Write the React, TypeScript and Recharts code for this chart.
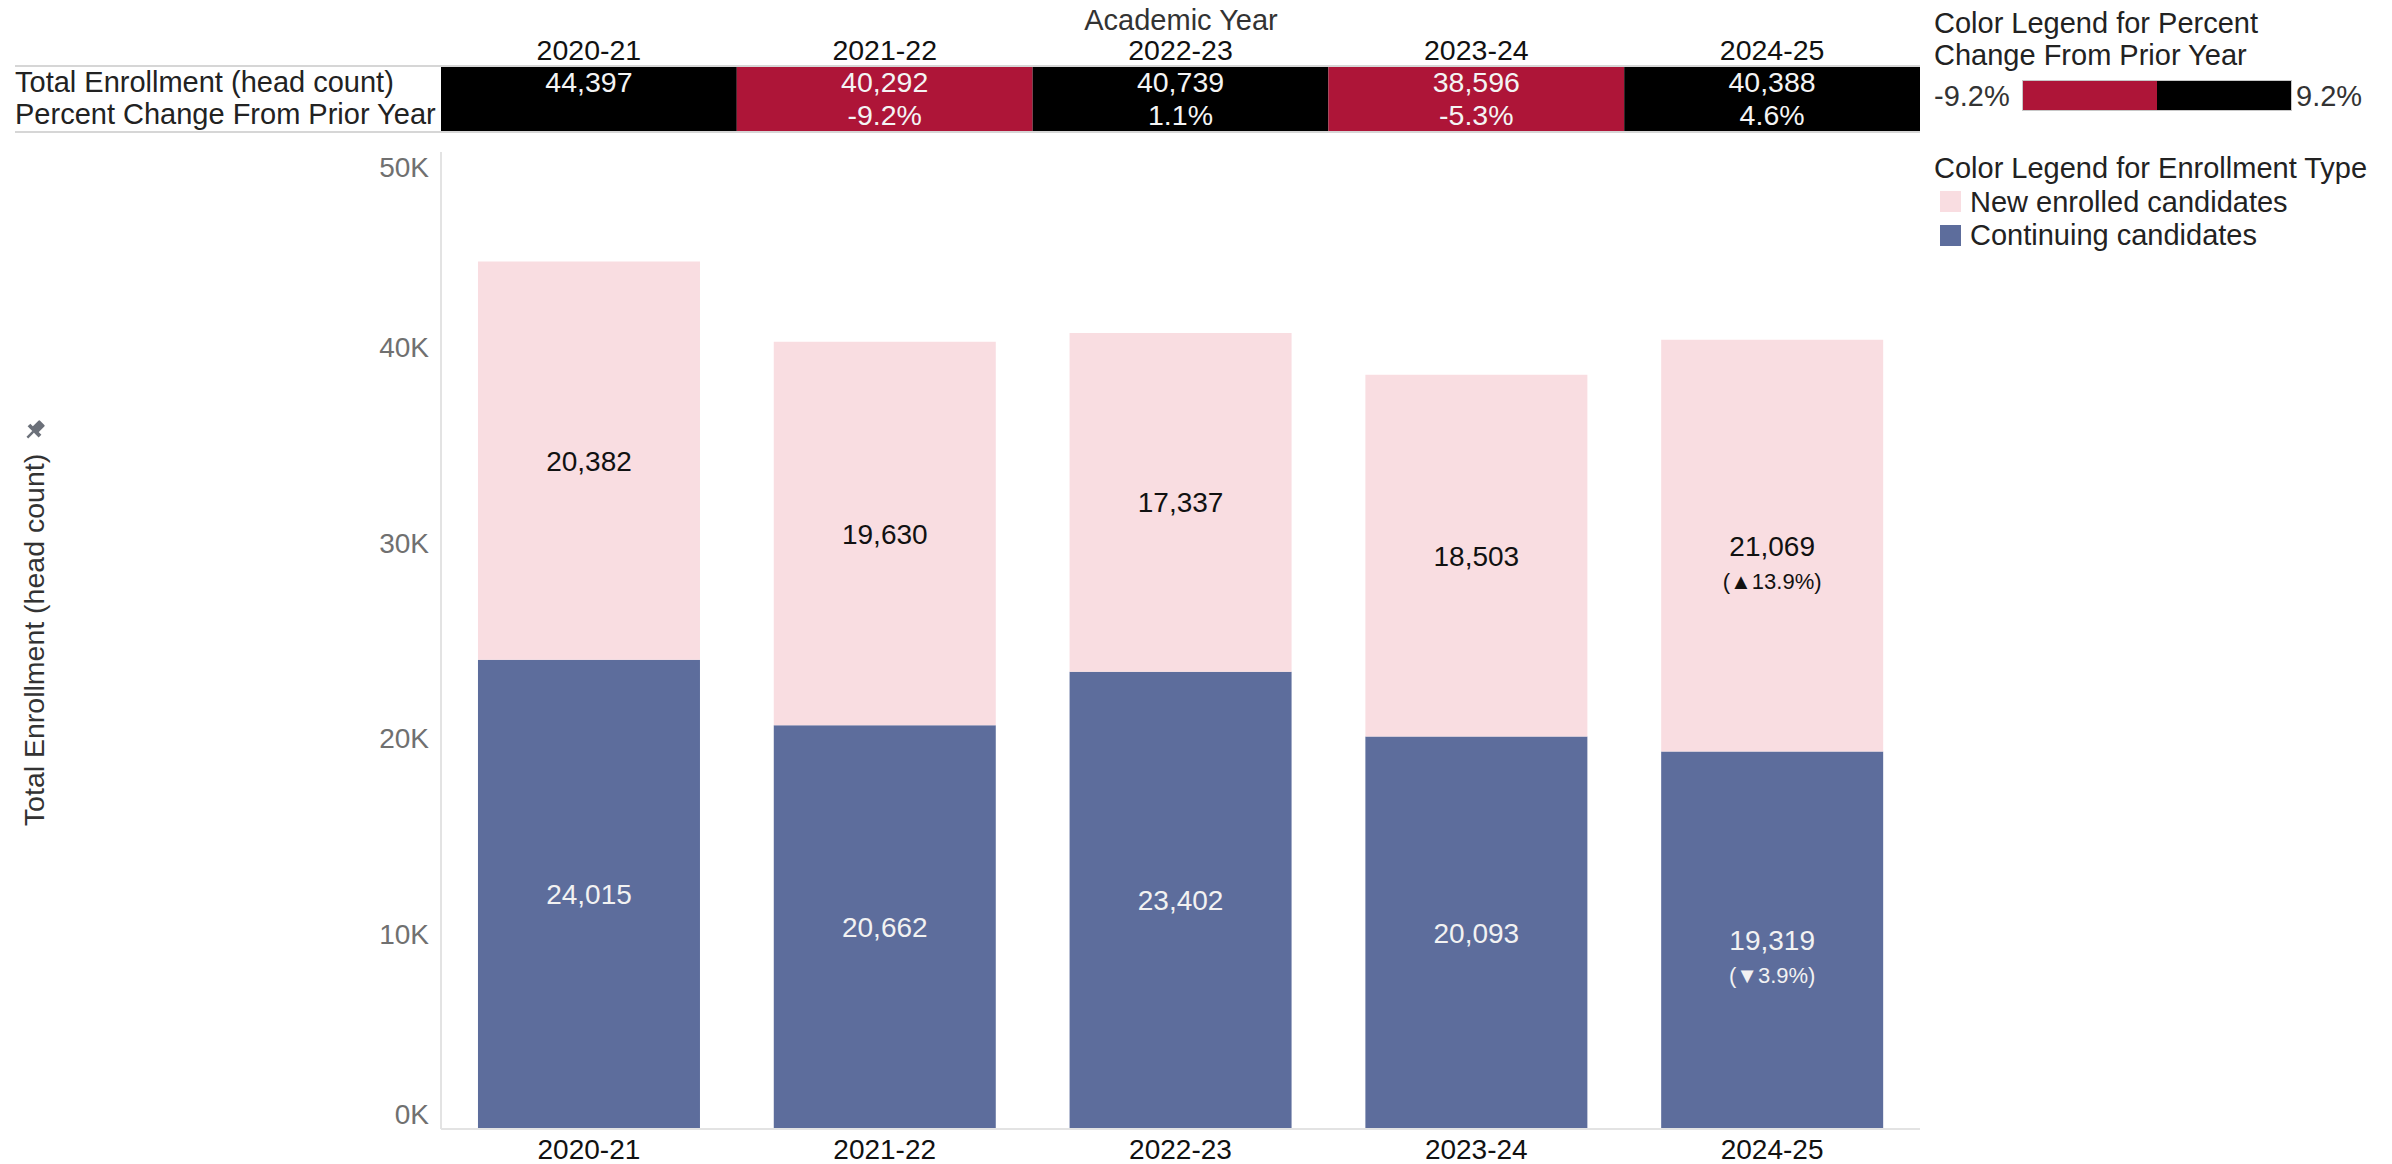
import React from "react";
import { BarChart, Bar, XAxis, YAxis, LabelList } from "recharts";

const years = ["2020-21", "2021-22", "2022-23", "2023-24", "2024-25"];
const continuing = [24015, 20662, 23402, 20093, 19319];
const newEnrolled = [20382, 19630, 17337, 18503, 21069];
const totals = [44397, 40292, 40739, 38596, 40388];
const pctChange: (number | null)[] = [null, -9.2, 1.1, -5.3, 4.6];
const newNotes = ["", "", "", "", "(▲13.9%)"];
const contNotes = ["", "", "", "", "(▼3.9%)"];
const yTicks = [0, 10000, 20000, 30000, 40000, 50000];

const data = years.map((y, i) => ({
  year: y,
  continuing: continuing[i],
  newEnrolled: newEnrolled[i],
  total: totals[i],
  pct: pctChange[i],
}));

const FONT = "'Liberation Sans', Arial, Helvetica, sans-serif";
const PINK = "#F9DDE1";
const BLUE = "#5D6D9C";
const RED = "#AE1538";
const BLACK = "#000000";

const fmt = (v: number) => v.toLocaleString("en-US");

const HeaderTick = (props: any) => {
  const { x, index, width, visibleTicksCount } = props;
  const band = (width || 1479) / (visibleTicksCount || 5);
  const p = pctChange[index];
  const fill = p !== null && p < 0 ? RED : BLACK;
  return (
    <g>
      <text x={x} y={50} dy="0.36em" textAnchor="middle" fontFamily={FONT} fontSize={28.5} fill="#111">
        {years[index]}
      </text>
      <rect x={x - band / 2} y={66} width={band} height={65.5} fill={fill} />
      <text x={x} y={82} dy="0.36em" textAnchor="middle" fontFamily={FONT} fontSize={28.5} fill="#f4f4f4">
        {fmt(totals[index])}
      </text>
      {p !== null && (
        <text x={x} y={115} dy="0.36em" textAnchor="middle" fontFamily={FONT} fontSize={28.5} fill="#f4f4f4">
          {p.toFixed(1) + "%"}
        </text>
      )}
    </g>
  );
};

const YTick = (props: any) => {
  const { x, y, payload } = props;
  const shift = payload.value === 0 ? -15 : payload.value === 50000 ? 15 : 0;
  return (
    <text x={x} y={y + shift} dy="0.36em" textAnchor="end" fontFamily={FONT} fontSize={28} fill="#707070">
      {payload.value / 1000 + "K"}
    </text>
  );
};

const XTick = (props: any) => {
  const { x, y, payload } = props;
  return (
    <text x={x} y={y} dy="0.36em" textAnchor="middle" fontFamily={FONT} fontSize={28} fill="#111">
      {payload.value}
    </text>
  );
};

const makeSegLabel = (notes: string[], color: string) => (props: any) => {
  const { x, y, width, height, value, index } = props;
  const cx = x + width / 2;
  const cy = y + height / 2;
  const note = notes[index];
  return (
    <g>
      <text x={cx} y={cy} dy="0.36em" textAnchor="middle" fontFamily={FONT} fontSize={28} fill={color}>
        {fmt(value)}
      </text>
      {note && (
        <text x={cx} y={cy + 35} dy="0.36em" textAnchor="middle" fontFamily={FONT} fontSize={22} fill={color}>
          {note}
        </text>
      )}
    </g>
  );
};

const txt: React.CSSProperties = {
  position: "absolute",
  fontFamily: FONT,
  fontSize: 29,
  lineHeight: "32px",
  whiteSpace: "nowrap",
  color: "#222",
};

export default function App() {
  return (
    <div style={{ position: "absolute", left: 0, top: 0, width: 2392, height: 1164, background: "#fff", overflow: "hidden" }}>
      <BarChart
        width={2392}
        height={1164}
        data={data}
        margin={{ top: 66, right: 472, bottom: 0, left: 0 }}
        barCategoryGap="12.5%"
      >
        <XAxis
          xAxisId="top"
          orientation="top"
          dataKey="year"
          height={86}
          axisLine={false}
          tickLine={false}
          interval={0}
          tick={<HeaderTick />}
        />
        <XAxis
          dataKey="year"
          height={35}
          interval={0}
          tickSize={0}
          tickMargin={20}
          axisLine={{ stroke: "#e3e3e3", strokeWidth: 2 }}
          tickLine={false}
          tick={<XTick />}
        />
        <YAxis
          width={441}
          domain={[0, 50000]}
          ticks={yTicks}
          interval={0}
          tickSize={0}
          tickMargin={12}
          axisLine={{ stroke: "#e3e3e3", strokeWidth: 2 }}
          tickLine={false}
          tick={<YTick />}
        />
        <Bar dataKey="continuing" stackId="a" fill={BLUE} isAnimationActive={false}>
          <LabelList dataKey="continuing" content={makeSegLabel(contNotes, "#f2f2f2")} />
        </Bar>
        <Bar dataKey="newEnrolled" stackId="a" fill={PINK} isAnimationActive={false}>
          <LabelList dataKey="newEnrolled" content={makeSegLabel(newNotes, "#111")} />
        </Bar>
      </BarChart>

      {/* static header / legend text */}
      <div style={{ ...txt, left: 1181, top: 4, transform: "translateX(-50%)", color: "#333" }}>Academic Year</div>
      <div style={{ position: "absolute", left: 15, top: 65, width: 1905, height: 2, background: "#d6d6d6" }} />
      <div style={{ position: "absolute", left: 15, top: 131, width: 1905, height: 2, background: "#d6d6d6" }} />
      <div style={{ ...txt, left: 15, top: 66 }}>Total Enrollment (head count)</div>
      <div style={{ ...txt, left: 15, top: 98 }}>Percent Change From Prior Year</div>

      {/* y-axis title */}
      <div
        style={{
          ...txt,
          fontSize: 28.5,
          color: "#333",
          left: 34,
          top: 640,
          transform: "translate(-50%, -50%) rotate(-90deg)",
        }}
      >
        Total Enrollment (head count)
      </div>
      <svg style={{ position: "absolute", left: 23, top: 418 }} width={24} height={24} viewBox="0 0 20 20">
        <g transform="rotate(45 10 10)" fill="#6b7079">
          <rect x={6.5} y={1.5} width={7} height={8.5} rx={1} />
          <rect x={3.5} y={9} width={13} height={3.2} />
          <rect x={9} y={12} width={2} height={7} />
        </g>
      </svg>

      {/* legend: percent change */}
      <div style={{ ...txt, left: 1934, top: 7 }}>Color Legend for Percent</div>
      <div style={{ ...txt, left: 1934, top: 39 }}>Change From Prior Year</div>
      <div style={{ ...txt, left: 1934, top: 80, color: "#333" }}>-9.2%</div>
      <div style={{ position: "absolute", left: 2022, top: 80, width: 270, height: 31, boxSizing: "border-box", border: "1px solid #c8c8c8", display: "flex" }}>
        <div style={{ flex: 1, background: RED }} />
        <div style={{ flex: 1, background: BLACK }} />
      </div>
      <div style={{ ...txt, left: 2296, top: 80, color: "#333" }}>9.2%</div>

      {/* legend: enrollment type */}
      <div style={{ ...txt, left: 1934, top: 152 }}>Color Legend for Enrollment Type</div>
      <div style={{ position: "absolute", left: 1940, top: 191, width: 21, height: 21, background: PINK }} />
      <div style={{ ...txt, left: 1970, top: 186 }}>New enrolled candidates</div>
      <div style={{ position: "absolute", left: 1940, top: 225, width: 21, height: 21, background: BLUE }} />
      <div style={{ ...txt, left: 1970, top: 219 }}>Continuing candidates</div>
    </div>
  );
}
